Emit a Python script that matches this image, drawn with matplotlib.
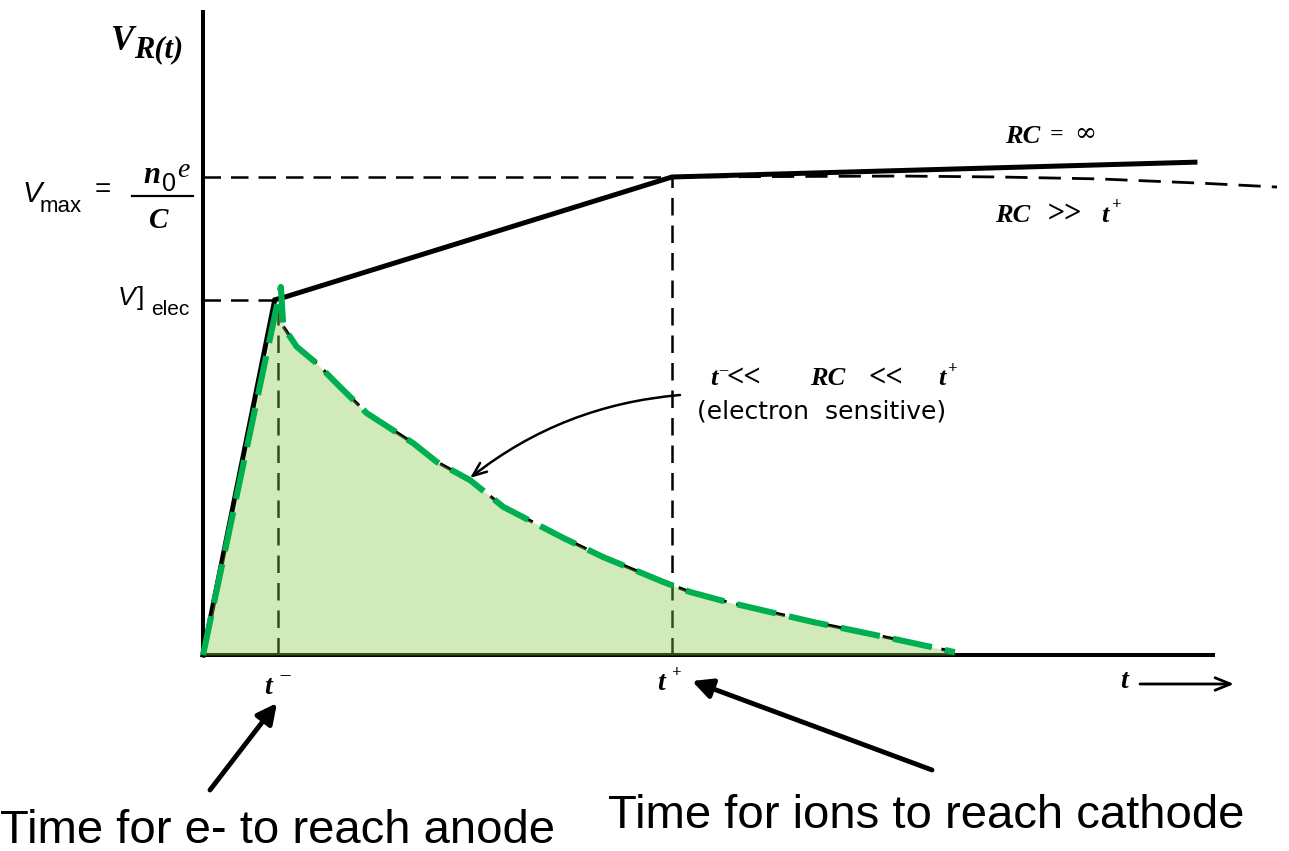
import matplotlib
matplotlib.use("Agg")
import matplotlib.pyplot as plt
from matplotlib.lines import Line2D

# ---------------- data (t in units of t+, V in units of Vmax) ----------------
t_minus = 0.16
t_plus = 1.0
V_elec = 0.743
V_max = 1.0

# RC = infinity (solid)
rc_inf_t = [0.0, 0.153, 0.175, 1.0, 2.115]
rc_inf_v = [0.0, 0.743, 0.749, 1.0, 1.031]

# RC >> t+ (dashed)
rc_big_t = [1.0, 1.49, 1.70, 1.91, 2.13, 2.29]
rc_big_v = [1.0, 1.002, 1.0, 0.996, 0.987, 0.979]

# t- << RC << t+  (electron sensitive)
elec_t = [0.0, 0.166, 0.1712, 0.1998, 0.2424, 0.2921, 0.349, 0.4484, 0.4983,
          0.569, 0.605, 0.640, 0.768, 0.853, 0.981, 1.038, 1.117, 1.301,
          1.486, 1.603]
elec_v = [0.0, 0.770, 0.687, 0.645, 0.610, 0.561, 0.506, 0.443, 0.404,
          0.366, 0.338, 0.310, 0.245, 0.205, 0.153, 0.132, 0.111, 0.069,
          0.031, 0.006]

t_axis_end = 2.158
v_axis_top = 1.349

# ---------------- layout ----------------
W, H = 1289, 851
OX, OY = 203, 655          # pixel origin
SX, SY = 469.0, 478.0      # pixels per unit

fig = plt.figure(figsize=(W / 100, H / 100), dpi=100)
ax = fig.add_axes([0, 0, 1, 1])
ax.set_xlim(-OX / SX, (W - OX) / SX)
ax.set_ylim(-(H - OY) / SY, OY / SY)
ax.axis('off')


def P(x, y):
    """pixel position -> data position (for text placement)"""
    return (x - OX) / SX, (OY - y) / SY


# axes
ax.plot([0, 0], [0, v_axis_top], color='black', lw=2.9, solid_capstyle='butt', zorder=2)
ax.plot([0, t_axis_end], [0, 0], color='black', lw=2.9, solid_capstyle='butt', zorder=2)

# guide dashed lines
dk = dict(color='black', lw=1.8, dashes=(7, 4), zorder=2)
ax.plot([0, t_plus], [V_max, V_max], **dk)
ax.plot([0, t_minus], [V_elec, V_elec], **dk)
ax.plot([t_minus, t_minus], [0, V_elec], **dk)
ax.plot([t_plus, t_plus], [0, V_max], **dk)

# RC = inf solid
ax.plot(rc_inf_t, rc_inf_v, color='black', lw=3.6, solid_joinstyle='miter', zorder=3)
# RC >> t+ dashed
ax.plot(rc_big_t, rc_big_v, color='black', lw=2.0, dashes=(8, 4), zorder=3)

# electron sensitive black dashed
ax.plot(elec_t[2:], elec_v[2:], color='black', lw=2.4, dashes=(6, 3), zorder=3)

# shaded area
ax.fill_between(elec_t, elec_v, 0, color='#86c84a', alpha=0.38, lw=0, zorder=4)

# green dashed overlay
ax.plot(elec_t, elec_v, color='#00b050', lw=4.4, dashes=(6.5, 2.2),
        solid_capstyle='butt', dash_capstyle='butt', solid_joinstyle='round', zorder=5)

# ---------------- texts ----------------
serif_bi = dict(family='Liberation Serif', style='italic', weight='bold')
sans_i = dict(family='Liberation Sans', style='italic')
sans = dict(family='Liberation Sans')


def T(x, y, s, size, ha='left', **kw):
    ax.text(*P(x, y), s, fontsize=size, ha=ha, va='baseline', **kw)


# V_R(t)
T(111, 50, 'V', 25, **serif_bi)
T(134, 57, 'R(t)', 22, **serif_bi)

# V_max = n0 e / C
T(22, 202, 'V', 21, **sans_i)
T(40, 212, 'max', 16, **sans)
ax.text(*P(103, 190), '=', fontsize=20, ha='center', va='center', **sans)
T(143, 183, 'n', 22, **serif_bi)
T(162, 191, '0', 18, **sans)
T(177, 177, 'e', 20, family='Liberation Serif', style='italic')
ax.add_line(Line2D([132 / W, 193 / W], [1 - 196 / H, 1 - 196 / H],
                   transform=fig.transFigure, color='black', lw=1.6))
T(159, 228, 'C', 21, ha='center', **serif_bi)

# V]elec
T(118, 305, 'V', 19, **sans_i)
T(137, 305, ']', 19, **sans)
T(151, 315, 'elec', 15, **sans)

# t- and t+ labels
T(264, 694, 't', 20, **serif_bi)
T(280, 680, '\u2013', 14, **serif_bi)
T(657, 690, 't', 20, **serif_bi)
T(672, 677, '+', 12, **serif_bi)

# t -> at right
T(1120, 688, 't', 20, **serif_bi)
ax.annotate('', xy=P(1234, 684), xytext=P(1140, 684),
            arrowprops=dict(arrowstyle='->,head_length=1.1,head_width=0.45',
                            color='black', lw=2.0, shrinkA=0, shrinkB=0))

# RC labels
T(1005, 143, 'RC', 19, **serif_bi)
T(1050, 141, '=', 17, **serif_bi)
T(1074, 141, '\u221e', 19, family='DejaVu Serif')
T(995, 222, 'RC', 19, **serif_bi)
T(1047, 222, '>>', 22, **serif_bi)
T(1101, 222, 't', 19, **serif_bi)
T(1112, 209, '+', 12, **serif_bi)

# electron sensitive label
T(710, 385, 't', 19, **serif_bi)
T(719, 374, '\u2013', 12, **serif_bi)
T(726, 386, '<<', 22, **serif_bi)
T(810, 385, 'RC', 19, **serif_bi)
T(868, 386, '<<', 22, **serif_bi)
T(938, 385, 't', 19, **serif_bi)
T(948, 373, '+', 12, **serif_bi)
T(697, 418, '(electron  sensitive)', 18, family='DejaVu Sans')
ax.annotate('', xy=P(470, 478), xytext=P(680, 395),
            arrowprops=dict(arrowstyle='->,head_length=1.0,head_width=0.4',
                            connectionstyle='arc3,rad=0.15',
                            color='black', lw=1.8, shrinkA=0, shrinkB=0))

# bottom annotations
ax.annotate('', xy=P(277, 703), xytext=P(210, 790),
            arrowprops=dict(arrowstyle='-|>,head_length=1.2,head_width=0.6',
                            color='black', lw=3.5, shrinkA=0, shrinkB=0))
ax.annotate('', xy=P(692, 681), xytext=P(932, 770),
            arrowprops=dict(arrowstyle='-|>,head_length=1.2,head_width=0.6',
                            color='black', lw=3.5, shrinkA=0, shrinkB=0))

bot = dict(family='Liberation Sans', fontsize=34)
ax.text(*P(0, 843), 'Time for e- to reach anode', ha='left', va='baseline', **bot)
ax.text(*P(608, 828), 'Time for ions to reach cathode', ha='left', va='baseline', **bot)

fig.savefig('out.png', dpi=100)
